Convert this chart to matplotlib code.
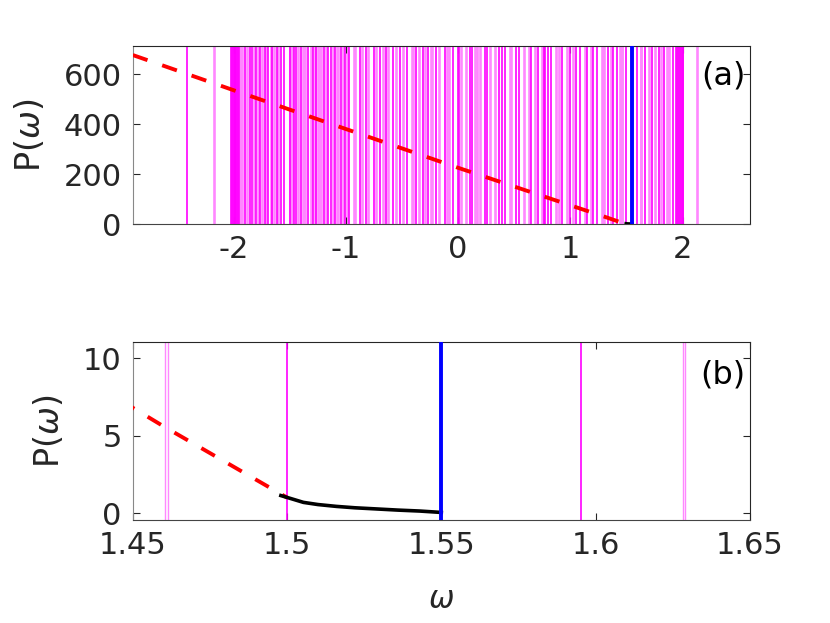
import matplotlib
matplotlib.use('Agg')
import matplotlib.pyplot as plt
import numpy as np

# spectrum lines (bright magenta / light magenta)
bright_w = [-2.414,
            -2.025, -2.017, -2.009, -2.001, -1.993, -1.985, -1.977, -1.969, -1.961, -1.953,
            -1.901, -1.858, -1.840, -1.804, -1.762, -1.726, -1.691, -1.655, -1.619, -1.577, -1.550,
            -1.495, -1.462, -1.444, -1.405, -1.334, -1.295, -1.265, -1.194, -1.161, -1.131, -1.095,
            -1.042, -1.006, -0.976, -0.871, -0.824, -0.752, -0.698, -0.639, -0.579, -0.519, -0.459,
            -0.376, -0.316, -0.265, -0.196, -0.116, -0.042, -0.003, 0.004, 0.107, 0.128, 0.236, 0.260,
            0.367, 0.391, 0.415, 0.519, 0.540, 0.653, 0.713, 0.767, 0.772, 0.803, 0.827, 0.928, 0.994,
            1.048, 1.086, 1.152, 1.202, 1.241, 1.340, 1.382, 1.420, 1.5, 1.5953,
            1.668, 1.728, 1.787, 1.838, 1.919,
            1.944, 1.952, 1.960, 1.968, 1.976, 1.984, 1.992, 2.000, 2.007]
light_w = [-2.173, -1.945, -1.935, -1.925, -1.883, -1.822, -1.783, -1.744, -1.709, -1.670,
           -1.637, -1.604, -1.497, -1.480, -1.423, -1.385, -1.373, -1.361, -1.316, -1.277,
           -1.247, -1.235, -1.223, -1.179, -1.116, -1.083, -1.071, -1.027, -0.991, -0.928, -0.916,
           -0.856, -0.803, -0.728, -0.674, -0.621, -0.555, -0.489, -0.415, -0.403, -0.352,
           -0.295, -0.241, -0.229, -0.172, -0.095, -0.080, 0.027, 0.069, 0.152, 0.164, 0.197,
           0.286, 0.325, 0.460, 0.472, 0.585, 0.635, 0.683, 0.749, 0.868, 0.898, 0.973, 1.024,
           1.131, 1.185, 1.280, 1.292, 1.301, 1.361, 1.441, 1.4603, 1.4613, 1.6284, 1.629,
           1.698, 1.757, 1.811, 1.860, 1.870, 1.880, 2.128]
blue_w = 1.55

# unstable branch (red dashed)
red_w = [-2.9, -2.0, -1.0, 0.0, 1.0, 1.3, 1.45, 1.46, 1.48, 1.5]
red_p = [676, 535, 380, 225, 75, 30, 6.8, 5.6, 3.3, 1.0]

# stable branch (black)
blk_w = [1.498, 1.501, 1.5053, 1.51, 1.516, 1.522, 1.5295, 1.536, 1.543, 1.55]
blk_p = [1.13, 0.95, 0.69, 0.55, 0.43, 0.34, 0.26, 0.19, 0.13, 0.04]

plt.rcParams['font.family'] = ['DejaVu Sans']
plt.rcParams['font.size'] = 22
plt.rcParams['mathtext.fontset'] = 'dejavusans'
plt.rcParams['axes.unicode_minus'] = False

fig = plt.figure(figsize=(8.3, 6.23), dpi=100)
ax1 = fig.add_axes([0.160, 0.6404, 0.7434, 0.2857])
ax2 = fig.add_axes([0.160, 0.1653, 0.7434, 0.2857])

for ax, lw_light in ((ax1, 1.9), (ax2, 1.0)):
    for w in light_w:
        ax.axvline(w, color='#ff88ff', lw=lw_light, zorder=1)
    for w in bright_w:
        ax.axvline(w, color='#ff00ff', lw=1.2, zorder=2)
    ax.plot(red_w, red_p, color='red', lw=2.8, dashes=(4, 4), zorder=3)
    ax.plot(blk_w, blk_p, color='black', lw=2.6, zorder=4)
    ax.axvline(blue_w, color='blue', lw=2.8, zorder=5)
    ax.tick_params(direction='in', top=True, right=True, length=5, width=0.8,
                   colors='#262626', labelsize=22, pad=8)
    ax.spines['left'].set_color('#888888')
    ax.spines['bottom'].set_color('#444444')
    ax.spines['top'].set_color('#262626')
    ax.spines['right'].set_color('#262626')
    ax.set_ylabel(r'P($\omega$)', color='#262626', fontsize=24, labelpad=12)

ax1.set_xlim(-2.9, 2.6)
ax1.set_ylim(0, 712)
ax1.set_xticks([-2, -1, 0, 1, 2])
ax1.set_yticks([0, 200, 400, 600])
ax1.text(0.993, 0.92, '(a)', transform=ax1.transAxes, ha='right', va='top', fontsize=23)

ax2.set_xlim(1.45, 1.65)
ax2.set_ylim(-0.45, 11.05)
ax2.set_xticks([1.45, 1.5, 1.55, 1.6, 1.65])
ax2.set_xticklabels(['1.45', '1.5', '1.55', '1.6', '1.65'])
ax2.set_yticks([0, 5, 10])
ax2.text(0.992, 0.90, '(b)', transform=ax2.transAxes, ha='right', va='top', fontsize=23)
ax2.set_xlabel(r'$\omega$', color='#262626', fontsize=22, labelpad=18)

fig.savefig('out.png', dpi=100)
